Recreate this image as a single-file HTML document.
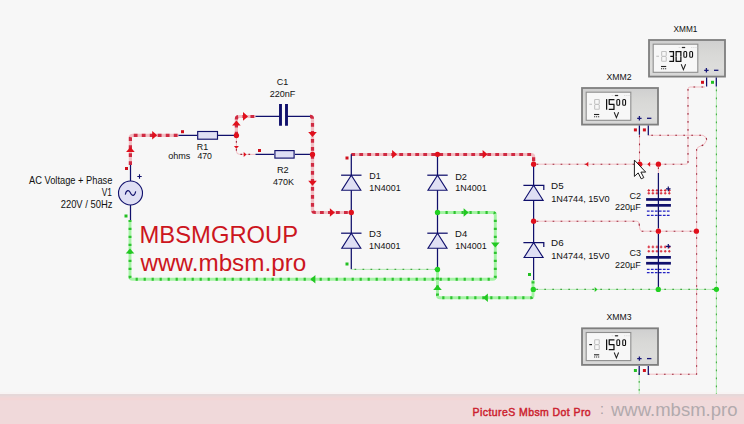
<!DOCTYPE html>
<html><head><meta charset="utf-8"><style>
html,body{margin:0;padding:0;background:#f7f7f7;}
svg{display:block;font-family:"Liberation Sans", sans-serif;}
</style></head><body>
<svg width="744" height="424" viewBox="0 0 744 424">
<defs>
<linearGradient id="mg" x1="0" y1="0" x2="0" y2="1"><stop offset="0" stop-color="#cfcfcf"/><stop offset="0.35" stop-color="#d8d8d6"/><stop offset="0.75" stop-color="#dddddb"/><stop offset="1" stop-color="#d6d6d6"/></linearGradient>
</defs>
<rect width="744" height="424" fill="#f7f7f7"/>

<rect x="0" y="392" width="744" height="2" fill="#f8f4f4"/>
<rect x="0" y="394" width="744" height="30" fill="#f0d9da"/>
<rect x="0" y="394" width="744" height="2.4" fill="#e6d8d9"/>
<rect x="0" y="396.4" width="744" height="1.2" fill="#ebd8d9"/>
<rect x="0" y="397.6" width="744" height="2.6" fill="#f3d6d6"/>
<path d="M130.5 165V181M130.5 205V220" fill="none" stroke="#10106c" stroke-width="1.25"/>
<circle cx="130.5" cy="193" r="12" fill="#dfdff4" stroke="#10106c" stroke-width="1.1"/>
<path d="M125.3 194.6C126.3 189.6 129.2 189.6 130.5 193S134.7 196.4 135.7 191.4" fill="none" stroke="#10106c" stroke-width="1.1"/>
<path d="M137.3 176.5H141.7M139.5 174.3V178.7" stroke="#10106c" stroke-width="1.1"/>
<rect x="125" y="167" width="3" height="3" fill="#d0101c"/>
<rect x="124.5" y="214.5" width="3" height="3" fill="#22c022"/>
<text transform="translate(112.41 184.0) scale(0.904 1)" font-size="10.3" text-anchor="end" fill="#111" >AC Voltage + Phase</text>
<text transform="translate(111.91 195.8) scale(0.813 1)" font-size="10.3" text-anchor="end" fill="#111" >V1</text>
<text transform="translate(112.47 207.9) scale(0.915 1)" font-size="10.3" text-anchor="end" fill="#111" >220V / 50Hz</text>
<path d="M130.4 165V137.8Q130.4 135.3 132.9 135.3H178.5" fill="none" stroke="#f2bfc4" stroke-width="3.2" stroke-linejoin="round"/>
<path d="M130.4 165V137.8Q130.4 135.3 132.9 135.3H178.5" fill="none" stroke="#cf2a42" stroke-width="3.2" stroke-dasharray="3.8 4.2" stroke-linejoin="round"/>
<path d="M-2.4 -4.3L2.6 0L-2.4 4.3Z" fill="#e0101c" transform="translate(130.4 149.6) rotate(-90)"/>
<path d="M-2.4 -4.3L2.6 0L-2.4 4.3Z" fill="#e0101c" transform="translate(154.6 135.3) rotate(0)"/>
<rect x="181" y="130.2" width="3" height="3" fill="#d0101c"/>
<path d="M178.5 135.4H197.1M217.8 135.4H236.4" fill="none" stroke="#10106c" stroke-width="1.25"/>
<rect x="197.7" y="131.5" width="19.8" height="7.7" fill="#dfdff4" stroke="#10106c" stroke-width="1.15"/>
<text transform="translate(196.87 149.8) scale(0.898 1)" font-size="9.9" text-anchor="start" fill="#111" >R1</text>
<text transform="translate(168.22 158.9) scale(0.917 1)" font-size="9.9" text-anchor="start" fill="#111" >ohms</text>
<text transform="translate(197.4 158.9) scale(0.88 1)" font-size="9.9" text-anchor="start" fill="#111" >470</text>
<path d="M236.4 135.5V119Q236.4 116.5 238.9 116.5H255.5" fill="none" stroke="#f2bfc4" stroke-width="3.2" stroke-linejoin="round"/>
<path d="M236.4 135.5V119Q236.4 116.5 238.9 116.5H255.5" fill="none" stroke="#cf2a42" stroke-width="3.2" stroke-dasharray="3.8 4.2" stroke-linejoin="round"/>
<path d="M-2.4 -4.3L2.6 0L-2.4 4.3Z" fill="#e0101c" transform="translate(236.4 123.2) rotate(-90)"/>
<path d="M-2.4 -4.3L2.6 0L-2.4 4.3Z" fill="#e0101c" transform="translate(245.4 116.4) rotate(0)"/>
<path d="M236.4 138V151Q236.4 154.4 239.8 154.4H255.5" fill="none" stroke="#f2b4ba" stroke-width="0.85"/>
<path d="M236.4 138V151Q236.4 154.4 239.8 154.4H255.5" fill="none" stroke="#9a2a3c" stroke-width="1.1" stroke-dasharray="1.7 6.3" stroke-dashoffset="-3"/>
<path d="M-1.3 -2.5L1.5 0L-1.3 2.5Z" fill="#e0101c" transform="translate(236.4 147.3) rotate(90)"/>
<path d="M-1.3 -2.5L1.5 0L-1.3 2.5Z" fill="#e0101c" transform="translate(245 154.4) rotate(0)"/>
<rect x="258" y="149" width="3" height="3" fill="#d0101c"/>
<path d="M255.5 116.4H280M287 116.4H311.5" fill="none" stroke="#10106c" stroke-width="1.25"/>
<path d="M280.5 104.1V125.8M286.5 104.1V125.8" stroke="#10106c" stroke-width="2.9"/>
<text transform="translate(282.59 84.9) scale(0.908 1)" font-size="9.9" text-anchor="middle" fill="#111" >C1</text>
<text transform="translate(282.5 96.8) scale(0.916 1)" font-size="9.9" text-anchor="middle" fill="#111" >220nF</text>
<path d="M255.5 154.4H274M295 154.4H312.5" fill="none" stroke="#10106c" stroke-width="1.25"/>
<rect x="274.9" y="150.6" width="19.2" height="7.5" fill="#dfdff4" stroke="#10106c" stroke-width="1.15"/>
<text transform="translate(282.85 173.1) scale(0.934 1)" font-size="9.9" text-anchor="middle" fill="#111" >R2</text>
<text transform="translate(283.6 185.0) scale(0.909 1)" font-size="9.9" text-anchor="middle" fill="#111" >470K</text>
<path d="M310 116.4Q312.5 116.4 312.5 118.9V210Q312.5 212.5 315 212.5H351.3" fill="none" stroke="#f2bfc4" stroke-width="3.2" stroke-linejoin="round"/>
<path d="M310 116.4Q312.5 116.4 312.5 118.9V210Q312.5 212.5 315 212.5H351.3" fill="none" stroke="#cf2a42" stroke-width="3.2" stroke-dasharray="3.8 4.2" stroke-linejoin="round"/>
<path d="M-2.4 -4.3L2.6 0L-2.4 4.3Z" fill="#e0101c" transform="translate(312.5 134.3) rotate(90)"/>
<path d="M-2.4 -4.3L2.6 0L-2.4 4.3Z" fill="#e0101c" transform="translate(312.5 183.2) rotate(90)"/>
<path d="M-2.4 -4.3L2.6 0L-2.4 4.3Z" fill="#e0101c" transform="translate(332.3 212.5) rotate(0)"/>
<path d="M351.3 154.5H531.1Q533.6 154.5 533.6 157V164.2" fill="none" stroke="#f2bfc4" stroke-width="3.2" stroke-linejoin="round"/>
<path d="M351.3 154.5H531.1Q533.6 154.5 533.6 157V164.2" fill="none" stroke="#cf2a42" stroke-width="3.2" stroke-dasharray="3.8 4.2" stroke-linejoin="round"/>
<path d="M-2.4 -4.3L2.6 0L-2.4 4.3Z" fill="#e0101c" transform="translate(394.5 154.3) rotate(0)"/>
<path d="M-2.4 -4.3L2.6 0L-2.4 4.3Z" fill="#e0101c" transform="translate(485 154.3) rotate(0)"/>
<rect x="345.5" y="156.5" width="3" height="3" fill="#d0101c"/>
<path d="M351.3 154.3V269.3M437.5 154.3V269.5" fill="none" stroke="#10106c" stroke-width="1.25"/>
<path d="M351.3 175.2L360.8 190.2H341.8Z" fill="#dfdff4" stroke="#10106c" stroke-width="1.15" stroke-linejoin="miter"/>
<path d="M341.1 175.2H361.5" fill="none" stroke="#10106c" stroke-width="1.25"/>
<path d="M437.5 175.2L447.0 190.2H428.0Z" fill="#dfdff4" stroke="#10106c" stroke-width="1.15" stroke-linejoin="miter"/>
<path d="M427.3 175.2H447.7" fill="none" stroke="#10106c" stroke-width="1.25"/>
<path d="M351.3 233.2L360.8 248.2H341.8Z" fill="#dfdff4" stroke="#10106c" stroke-width="1.15" stroke-linejoin="miter"/>
<path d="M341.1 233.2H361.5" fill="none" stroke="#10106c" stroke-width="1.25"/>
<path d="M437.5 233.2L447.0 248.2H428.0Z" fill="#dfdff4" stroke="#10106c" stroke-width="1.15" stroke-linejoin="miter"/>
<path d="M427.3 233.2H447.7" fill="none" stroke="#10106c" stroke-width="1.25"/>
<text transform="translate(369.16 179.4) scale(0.907 1)" font-size="9.9" text-anchor="start" fill="#111" >D1</text>
<text transform="translate(369.32 191.3) scale(0.903 1)" font-size="9.9" text-anchor="start" fill="#111" >1N4001</text>
<text transform="translate(455.14 179.5) scale(0.934 1)" font-size="9.9" text-anchor="start" fill="#111" >D2</text>
<text transform="translate(455.32 191.3) scale(0.906 1)" font-size="9.9" text-anchor="start" fill="#111" >1N4001</text>
<text transform="translate(369.02 237.2) scale(0.964 1)" font-size="9.9" text-anchor="start" fill="#111" >D3</text>
<text transform="translate(369.11 249.2) scale(0.909 1)" font-size="9.9" text-anchor="start" fill="#111" >1N4001</text>
<text transform="translate(455.12 237.2) scale(0.961 1)" font-size="9.9" text-anchor="start" fill="#111" >D4</text>
<text transform="translate(455.32 249.2) scale(0.906 1)" font-size="9.9" text-anchor="start" fill="#111" >1N4001</text>
<rect x="345.5" y="262.5" width="3" height="3" fill="#22c022"/>
<path d="M437.5 212.5H492.8Q495.3 212.5 495.3 215V276.8Q495.3 279.3 492.8 279.3H132.5Q130 279.3 130 276.8V220" fill="none" stroke="#a4f4a4" stroke-width="2.9" stroke-linejoin="round"/>
<path d="M437.5 212.5H492.8Q495.3 212.5 495.3 215V276.8Q495.3 279.3 492.8 279.3H132.5Q130 279.3 130 276.8V220" fill="none" stroke="#30c232" stroke-width="2.9" stroke-dasharray="2.2 5.8" stroke-linejoin="round"/>
<path d="M-2.4 -4.3L2.6 0L-2.4 4.3Z" fill="#22c822" transform="translate(466 212.5) rotate(0)"/>
<path d="M-2.4 -4.3L2.6 0L-2.4 4.3Z" fill="#22c822" transform="translate(495.3 245) rotate(90)"/>
<path d="M-2.4 -4.3L2.6 0L-2.4 4.3Z" fill="#22c822" transform="translate(313 279.3) rotate(180)"/>
<path d="M-2.4 -4.3L2.6 0L-2.4 4.3Z" fill="#22c822" transform="translate(130 251) rotate(-90)"/>
<path d="M351.5 269.4H437.5" fill="none" stroke="#a8eca8" stroke-width="0.85"/>
<path d="M351.5 269.4H437.5" fill="none" stroke="#46a846" stroke-width="1.1" stroke-dasharray="1.7 6.3" stroke-dashoffset="-3"/>
<path d="M437.5 269.5V295.3Q437.5 297.8 440 297.8H530.5Q533 297.8 533 295.3V280" fill="none" stroke="#a4f4a4" stroke-width="2.9" stroke-linejoin="round"/>
<path d="M437.5 269.5V295.3Q437.5 297.8 440 297.8H530.5Q533 297.8 533 295.3V280" fill="none" stroke="#30c232" stroke-width="2.9" stroke-dasharray="2.2 5.8" stroke-linejoin="round"/>
<path d="M-2.4 -4.3L2.6 0L-2.4 4.3Z" fill="#22c822" transform="translate(437.5 287.5) rotate(-90)"/>
<path d="M-2.4 -4.3L2.6 0L-2.4 4.3Z" fill="#22c822" transform="translate(485.5 297.8) rotate(180)"/>
<path d="M533.6 164.2V280" fill="none" stroke="#10106c" stroke-width="1.25"/>
<path d="M533.6 185.3L543.1 200.3H524.1Z" fill="#dfdff4" stroke="#10106c" stroke-width="1.15" stroke-linejoin="miter"/>
<path d="M523.4 185.3H543.8000000000001V189.9" fill="none" stroke="#10106c" stroke-width="1.25"/>
<path d="M533.6 242.5L543.1 257.5H524.1Z" fill="#dfdff4" stroke="#10106c" stroke-width="1.15" stroke-linejoin="miter"/>
<path d="M523.4 242.5H543.8000000000001V247.1" fill="none" stroke="#10106c" stroke-width="1.25"/>
<text transform="translate(551.1 189.2) scale(0.989 1)" font-size="9.9" text-anchor="start" fill="#111" >D5</text>
<text transform="translate(551.2 201.5) scale(0.925 1)" font-size="9.9" text-anchor="start" fill="#111" >1N4744, 15V0</text>
<text transform="translate(551.1 246.4) scale(0.991 1)" font-size="9.9" text-anchor="start" fill="#111" >D6</text>
<text transform="translate(551.2 258.7) scale(0.925 1)" font-size="9.9" text-anchor="start" fill="#111" >1N4744, 15V0</text>
<rect x="528" y="273" width="3" height="3" fill="#22c022"/>
<path d="M533.6 164.2H686Q688 164.2 688 162V89Q688 87 690 87H705" fill="none" stroke="#f2b4ba" stroke-width="0.85"/>
<path d="M533.6 164.2H686Q688 164.2 688 162V89Q688 87 690 87H705" fill="none" stroke="#9a2a3c" stroke-width="1.1" stroke-dasharray="1.7 6.3" stroke-dashoffset="-3"/>
<path d="M639.5 164.2V134.8" fill="none" stroke="#f2b4ba" stroke-width="0.85"/>
<path d="M639.5 164.2V134.8" fill="none" stroke="#9a2a3c" stroke-width="1.1" stroke-dasharray="1.7 6.3" stroke-dashoffset="-3"/>
<path d="M648.3 135.3H703Q706.8 137 706.6 140.2Q705 145 701 145.8Q696.6 147 696.6 150V374.2H648.3" fill="none" stroke="#f2b4ba" stroke-width="0.85"/>
<path d="M648.3 135.3H703Q706.8 137 706.6 140.2Q705 145 701 145.8Q696.6 147 696.6 150V374.2H648.3" fill="none" stroke="#9a2a3c" stroke-width="1.1" stroke-dasharray="1.7 6.3" stroke-dashoffset="-3"/>
<path d="M533.6 221.2H637Q638.8 221.2 639.2 224Q639.6 231.2 642 231.2H696.6" fill="none" stroke="#f2b4ba" stroke-width="0.85"/>
<path d="M533.6 221.2H637Q638.8 221.2 639.2 224Q639.6 231.2 642 231.2H696.6" fill="none" stroke="#9a2a3c" stroke-width="1.1" stroke-dasharray="1.7 6.3" stroke-dashoffset="-3"/>
<path d="M-1.3 -2.5L1.5 0L-1.3 2.5Z" fill="#e0101c" transform="translate(587 164.3) rotate(180)"/>
<path d="M-1.3 -2.5L1.5 0L-1.3 2.5Z" fill="#e0101c" transform="translate(648.8 164.2) rotate(180)"/>
<path d="M533.3 289.4H716.4" fill="none" stroke="#a8eca8" stroke-width="0.85"/>
<path d="M533.3 289.4H716.4" fill="none" stroke="#46a846" stroke-width="1.1" stroke-dasharray="1.7 6.3" stroke-dashoffset="-3"/>
<path d="M716.4 86.6V394" fill="none" stroke="#a8eca8" stroke-width="0.85"/>
<path d="M716.4 86.6V394" fill="none" stroke="#46a846" stroke-width="1.1" stroke-dasharray="1.7 6.3" stroke-dashoffset="-3"/>
<path d="M639.2 370V394" fill="none" stroke="#a8eca8" stroke-width="0.85"/>
<path d="M639.2 370V394" fill="none" stroke="#46a846" stroke-width="1.1" stroke-dasharray="1.7 6.3" stroke-dashoffset="-3"/>
<path d="M-1.3 -2.5L1.5 0L-1.3 2.5Z" fill="#22c822" transform="translate(596 289.4) rotate(0)"/>
<path d="M658.4 164.2V173" fill="none" stroke="#f2b4ba" stroke-width="0.85"/>
<path d="M658.4 164.2V173" fill="none" stroke="#9a2a3c" stroke-width="1.1" stroke-dasharray="1.7 6.3" stroke-dashoffset="-3"/>
<path d="M658.4 231.2V234" fill="none" stroke="#f2b4ba" stroke-width="0.85"/>
<path d="M658.4 231.2V234" fill="none" stroke="#9a2a3c" stroke-width="1.1" stroke-dasharray="1.7 6.3" stroke-dashoffset="-3"/>
<path d="M648.8 189.1V191.70000000000002M647.5 190.4H650.0999999999999M648.8 191.89999999999998V194.5M647.5 193.2H650.0999999999999M652.9 189.1V191.70000000000002M651.6 190.4H654.1999999999999M652.9 191.89999999999998V194.5M651.6 193.2H654.1999999999999M657.0 189.1V191.70000000000002M655.7 190.4H658.3M657.0 191.89999999999998V194.5M655.7 193.2H658.3M661.0999999999999 189.1V191.70000000000002M659.8 190.4H662.3999999999999M661.0999999999999 191.89999999999998V194.5M659.8 193.2H662.3999999999999M665.1999999999999 189.1V191.70000000000002M663.9 190.4H666.4999999999999M665.1999999999999 191.89999999999998V194.5M663.9 193.2H666.4999999999999M669.3 189.1V191.70000000000002M668.0 190.4H670.5999999999999M669.3 191.89999999999998V194.5M668.0 193.2H670.5999999999999" stroke="#d82838" stroke-width="1.05"/>
<path d="M668.3 186.6V191.2M666.0 188.9H670.6" stroke="#10106c" stroke-width="1.2"/>
<rect x="646.1" y="198.1" width="24.8" height="2.7" fill="#10106c"/>
<rect x="646.1" y="204.0" width="24.8" height="2.7" fill="#10106c"/>
<path d="M646.9 211.1H669.9M646.9 215.4H669.9" stroke="#2424c4" stroke-width="1.15" stroke-dasharray="2.7 1.3"/>
<path d="M648.8 245.6V248.20000000000002M647.5 246.9H650.0999999999999M648.8 250.0V252.60000000000002M647.5 251.3H650.0999999999999M652.9 245.6V248.20000000000002M651.6 246.9H654.1999999999999M652.9 250.0V252.60000000000002M651.6 251.3H654.1999999999999M657.0 245.6V248.20000000000002M655.7 246.9H658.3M657.0 250.0V252.60000000000002M655.7 251.3H658.3M661.0999999999999 245.6V248.20000000000002M659.8 246.9H662.3999999999999M661.0999999999999 250.0V252.60000000000002M659.8 251.3H662.3999999999999M665.1999999999999 245.6V248.20000000000002M663.9 246.9H666.4999999999999M665.1999999999999 250.0V252.60000000000002M663.9 251.3H666.4999999999999M669.3 245.6V248.20000000000002M668.0 246.9H670.5999999999999M669.3 250.0V252.60000000000002M668.0 251.3H670.5999999999999" stroke="#d82838" stroke-width="1.05"/>
<path d="M668.3 244.0V248.6M666.0 246.3H670.6" stroke="#10106c" stroke-width="1.2"/>
<rect x="646.1" y="256.0" width="24.8" height="2.7" fill="#10106c"/>
<rect x="646.1" y="261.9" width="24.8" height="2.7" fill="#10106c"/>
<path d="M646.9 269.3H669.9M646.9 272.6H669.9" stroke="#2424c4" stroke-width="1.15" stroke-dasharray="2.7 1.3"/>
<path d="M658.4 173V228.5M658.4 234V289.4" fill="none" stroke="#10106c" stroke-width="1.25"/>
<text transform="translate(641.06 198.5) scale(0.918 1)" font-size="9.9" text-anchor="end" fill="#111" >C2</text>
<text transform="translate(640.76 210.2) scale(0.91 1)" font-size="9.9" text-anchor="end" fill="#111" >220µF</text>
<text transform="translate(641.0 256.0) scale(0.913 1)" font-size="9.9" text-anchor="end" fill="#111" >C3</text>
<text transform="translate(640.76 267.7) scale(0.91 1)" font-size="9.9" text-anchor="end" fill="#111" >220µF</text>
<text transform="translate(685.46 31.9) scale(0.835 1)" font-size="9.9" text-anchor="middle" fill="#111" >XMM1</text>
<rect x="649" y="40" width="76" height="36.6" fill="url(#mg)" stroke="#7e7e7e" stroke-width="1.8"/>
<rect x="653.2" y="44.2" width="44.6" height="28.1" fill="#f7f7f7" stroke="#8e8e8e" stroke-width="1.1"/>
<path d="M656.3000000000001 56.300000000000004H659.0" stroke="#c6c6c6" stroke-width="1.2"/>
<path d="M661.65 51.45H666.2500000000001M666.2500000000001 51.45V55.80000000000001M666.2500000000001 56.900000000000006V61.25000000000001M661.65 61.25000000000001H666.2500000000001M661.65 56.900000000000006V61.25000000000001M661.65 51.45V55.80000000000001M661.65 56.35000000000001H666.2500000000001" stroke="#c2c2c2" stroke-width="1.1" fill="none"/>
<path d="M669.3000000000001 51.525000000000006H673.95M670.3000000000001 56.400000000000006H673.95M669.3000000000001 61.275000000000006H673.95M673.475 51.050000000000004V56.25000000000001M673.475 56.550000000000004V61.75000000000001" stroke="#111" stroke-width="1.25" fill="none"/>
<path d="M675.65 51.525000000000006H681.35M680.875 51.050000000000004V56.25000000000001M680.875 56.550000000000004V61.75000000000001M675.65 61.275000000000006H681.35M676.125 56.550000000000004V61.75000000000001M676.125 51.050000000000004V56.25000000000001" stroke="#111" stroke-width="1.25" fill="none"/>
<rect x="683.85" y="51.45" width="2.8" height="5.8" rx="1.1" stroke="#111" stroke-width="1.1" fill="none"/>
<rect x="689.75" y="51.45" width="2.8" height="5.8" rx="1.1" stroke="#111" stroke-width="1.1" fill="none"/>
<rect x="678.8000000000001" y="47.1" width="0.8" height="0.8" fill="#c0c0c0"/>
<rect x="680.9000000000001" y="47.1" width="0.8" height="0.8" fill="#c0c0c0"/>
<rect x="683.0000000000001" y="47.1" width="0.8" height="0.8" fill="#c0c0c0"/>
<rect x="685.1" y="47.1" width="0.8" height="0.8" fill="#c0c0c0"/>
<rect x="691.4000000000001" y="47.1" width="0.8" height="0.8" fill="#c0c0c0"/>
<rect x="693.5000000000001" y="47.1" width="0.8" height="0.8" fill="#c0c0c0"/>
<rect x="695.6" y="47.1" width="0.8" height="0.8" fill="#c0c0c0"/>
<rect x="697.7" y="47.1" width="0.8" height="0.8" fill="#c0c0c0"/>
<rect x="682.0" y="46.900000000000006" width="3" height="1.2" fill="#2a2a2a"/>
<path d="M661.0 66.5H666.2" stroke="#222" stroke-width="1.1"/>
<path d="M661.1 68.7H666.2" stroke="#222" stroke-width="1.1" stroke-dasharray="1.1 0.9"/>
<path d="M681.2 64.2L683.4000000000001 69.6L685.6 64.2" stroke="#222" stroke-width="1.05" fill="none"/>
<path d="M704.2 70.3H708.6M706.4 68.1V72.5" stroke="#181878" stroke-width="1.3"/>
<path d="M714 70.3H718.4" stroke="#181878" stroke-width="1.3"/>
<text transform="translate(619.07 79.8) scale(0.879 1)" font-size="9.9" text-anchor="middle" fill="#111" >XMM2</text>
<rect x="582" y="88" width="76" height="36.6" fill="url(#mg)" stroke="#7e7e7e" stroke-width="1.8"/>
<rect x="586.2" y="92.2" width="44.6" height="28.1" fill="#f7f7f7" stroke="#8e8e8e" stroke-width="1.1"/>
<path d="M589.3000000000001 104.3H592.0" stroke="#c6c6c6" stroke-width="1.2"/>
<path d="M594.65 99.45H599.2500000000001M599.2500000000001 99.45V103.80000000000001M599.2500000000001 104.9V109.25000000000001M594.65 109.25000000000001H599.2500000000001M594.65 104.9V109.25000000000001M594.65 99.45V103.80000000000001M594.65 104.35000000000001H599.2500000000001" stroke="#c2c2c2" stroke-width="1.1" fill="none"/>
<path d="M606.6 99.10000000000001V109.7" stroke="#111" stroke-width="1.25" fill="none"/>
<path d="M608.75 99.525H614.45M609.225 99.05000000000001V104.25M608.75 104.4H614.45M613.975 104.55000000000001V109.75M608.75 109.275H614.45" stroke="#111" stroke-width="1.25" fill="none"/>
<rect x="616.85" y="99.45" width="2.8" height="5.8" rx="1.1" stroke="#111" stroke-width="1.1" fill="none"/>
<rect x="622.75" y="99.45" width="2.8" height="5.8" rx="1.1" stroke="#111" stroke-width="1.1" fill="none"/>
<rect x="611.8000000000001" y="95.10000000000001" width="0.8" height="0.8" fill="#c0c0c0"/>
<rect x="613.9000000000001" y="95.10000000000001" width="0.8" height="0.8" fill="#c0c0c0"/>
<rect x="616.0000000000001" y="95.10000000000001" width="0.8" height="0.8" fill="#c0c0c0"/>
<rect x="618.1" y="95.10000000000001" width="0.8" height="0.8" fill="#c0c0c0"/>
<rect x="624.4000000000001" y="95.10000000000001" width="0.8" height="0.8" fill="#c0c0c0"/>
<rect x="626.5000000000001" y="95.10000000000001" width="0.8" height="0.8" fill="#c0c0c0"/>
<rect x="628.6" y="95.10000000000001" width="0.8" height="0.8" fill="#c0c0c0"/>
<rect x="630.7" y="95.10000000000001" width="0.8" height="0.8" fill="#c0c0c0"/>
<rect x="615.0" y="94.9" width="3" height="1.2" fill="#2a2a2a"/>
<path d="M594.0 114.5H599.2" stroke="#222" stroke-width="1.1"/>
<path d="M594.1 116.7H599.2" stroke="#222" stroke-width="1.1" stroke-dasharray="1.1 0.9"/>
<path d="M614.2 112.2L616.4000000000001 117.6L618.6 112.2" stroke="#222" stroke-width="1.05" fill="none"/>
<path d="M637.2 118.3H641.6M639.4 116.1V120.5" stroke="#181878" stroke-width="1.3"/>
<path d="M647 118.3H651.4" stroke="#181878" stroke-width="1.3"/>
<text transform="translate(619.04 320.3) scale(0.877 1)" font-size="9.9" text-anchor="middle" fill="#111" >XMM3</text>
<rect x="582" y="328.3" width="76" height="36.6" fill="url(#mg)" stroke="#7e7e7e" stroke-width="1.8"/>
<rect x="586.2" y="332.5" width="44.6" height="28.1" fill="#f7f7f7" stroke="#8e8e8e" stroke-width="1.1"/>
<path d="M589.3000000000001 344.6H592.0" stroke="#1a1a1a" stroke-width="1.2"/>
<path d="M594.65 339.75H599.2500000000001M599.2500000000001 339.75V344.09999999999997M599.2500000000001 345.2V349.54999999999995M594.65 349.54999999999995H599.2500000000001M594.65 345.2V349.54999999999995M594.65 339.75V344.09999999999997M594.65 344.65H599.2500000000001" stroke="#c2c2c2" stroke-width="1.1" fill="none"/>
<path d="M606.6 339.4V350.0" stroke="#111" stroke-width="1.25" fill="none"/>
<path d="M608.75 339.825H614.45M609.225 339.34999999999997V344.55M608.75 344.7H614.45M613.975 344.84999999999997V350.05M608.75 349.575H614.45" stroke="#111" stroke-width="1.25" fill="none"/>
<rect x="616.85" y="339.75" width="2.8" height="5.8" rx="1.1" stroke="#111" stroke-width="1.1" fill="none"/>
<rect x="622.75" y="339.75" width="2.8" height="5.8" rx="1.1" stroke="#111" stroke-width="1.1" fill="none"/>
<rect x="611.8000000000001" y="335.4" width="0.8" height="0.8" fill="#c0c0c0"/>
<rect x="613.9000000000001" y="335.4" width="0.8" height="0.8" fill="#c0c0c0"/>
<rect x="616.0000000000001" y="335.4" width="0.8" height="0.8" fill="#c0c0c0"/>
<rect x="618.1" y="335.4" width="0.8" height="0.8" fill="#c0c0c0"/>
<rect x="624.4000000000001" y="335.4" width="0.8" height="0.8" fill="#c0c0c0"/>
<rect x="626.5000000000001" y="335.4" width="0.8" height="0.8" fill="#c0c0c0"/>
<rect x="628.6" y="335.4" width="0.8" height="0.8" fill="#c0c0c0"/>
<rect x="630.7" y="335.4" width="0.8" height="0.8" fill="#c0c0c0"/>
<rect x="615.0" y="335.2" width="3" height="1.2" fill="#2a2a2a"/>
<path d="M594.0 354.8H599.2" stroke="#222" stroke-width="1.1"/>
<path d="M594.1 357.0H599.2" stroke="#222" stroke-width="1.1" stroke-dasharray="1.1 0.9"/>
<path d="M614.2 352.5L616.4000000000001 357.9L618.6 352.5" stroke="#222" stroke-width="1.05" fill="none"/>
<path d="M637.2 358.6H641.6M639.4 356.40000000000003V360.8" stroke="#181878" stroke-width="1.3"/>
<path d="M647 358.6H651.4" stroke="#181878" stroke-width="1.3"/>
<path d="M706.6 77.6V86.6M716.3 77.6V86.6" fill="none" stroke="#10106c" stroke-width="1.25"/>
<rect x="701" y="80.8" width="3" height="3" fill="#d0101c"/>
<rect x="711" y="80.8" width="3" height="3" fill="#22c022"/>
<path d="M639.4 125.6V134.8M648.3 125.6V135.3" fill="none" stroke="#10106c" stroke-width="1.25"/>
<rect x="633.9" y="128.4" width="3" height="3" fill="#d0101c"/>
<rect x="642.9" y="128.4" width="3" height="3" fill="#d0101c"/>
<path d="M639.2 366V375M648.3 366V375" fill="none" stroke="#10106c" stroke-width="1.25"/>
<rect x="633.9" y="369" width="3" height="3" fill="#22c022"/>
<rect x="642.9" y="369" width="3" height="3" fill="#d0101c"/>
<text transform="translate(139.5 243.1) scale(1.026 1)" font-size="23.2" text-anchor="start" fill="#cc1520" >MBSMGROUP</text>
<text transform="translate(140.5 271.0) scale(1.028 1)" font-size="23.6" text-anchor="start" fill="#cc1520" >www.mbsm.pro</text>
<circle cx="236.4" cy="135.5" r="2.65" fill="#e0101c"/>
<circle cx="312.5" cy="154.5" r="2.65" fill="#e0101c"/>
<circle cx="437.5" cy="154.3" r="2.65" fill="#e0101c"/>
<circle cx="351.3" cy="212.5" r="2.65" fill="#e0101c"/>
<circle cx="437.5" cy="212.5" r="2.65" fill="#22d022"/>
<circle cx="437.5" cy="269.5" r="2.65" fill="#22d022"/>
<circle cx="533.6" cy="221.2" r="2.65" fill="#e0101c"/>
<circle cx="533.6" cy="164.2" r="2.65" fill="#e0101c"/>
<circle cx="639.7" cy="164.2" r="2.65" fill="#e0101c"/>
<circle cx="658.4" cy="164.2" r="2.65" fill="#e0101c"/>
<circle cx="658.4" cy="231.2" r="2.65" fill="#e0101c"/>
<circle cx="696.4" cy="231.2" r="2.65" fill="#e0101c"/>
<circle cx="533.3" cy="289.4" r="2.65" fill="#22d022"/>
<circle cx="658.3" cy="289.4" r="2.65" fill="#22d022"/>
<circle cx="716.4" cy="289.3" r="2.65" fill="#22d022"/>
<path d="M634.4 160.1V176.4L638.2 172.9L641.2 178.8L643.8 177.6L640.9 172.1H645.7Z" fill="#fff" stroke="#111" stroke-width="0.95" stroke-linejoin="miter"/>
<text x="472.6" y="416.0" font-size="10.5" text-anchor="start" fill="#cc1f2f" stroke="#cc1f2f" stroke-width="0.45" letter-spacing="0.42">PictureS Mbsm Dot Pro</text>
<text x="600" y="414" font-size="14" text-anchor="start" fill="#a8a0a2" >:</text>
<text x="611" y="416" font-size="18.5" text-anchor="start" fill="#b2aaad" >www.mbsm.pro</text>
</svg></body></html>
